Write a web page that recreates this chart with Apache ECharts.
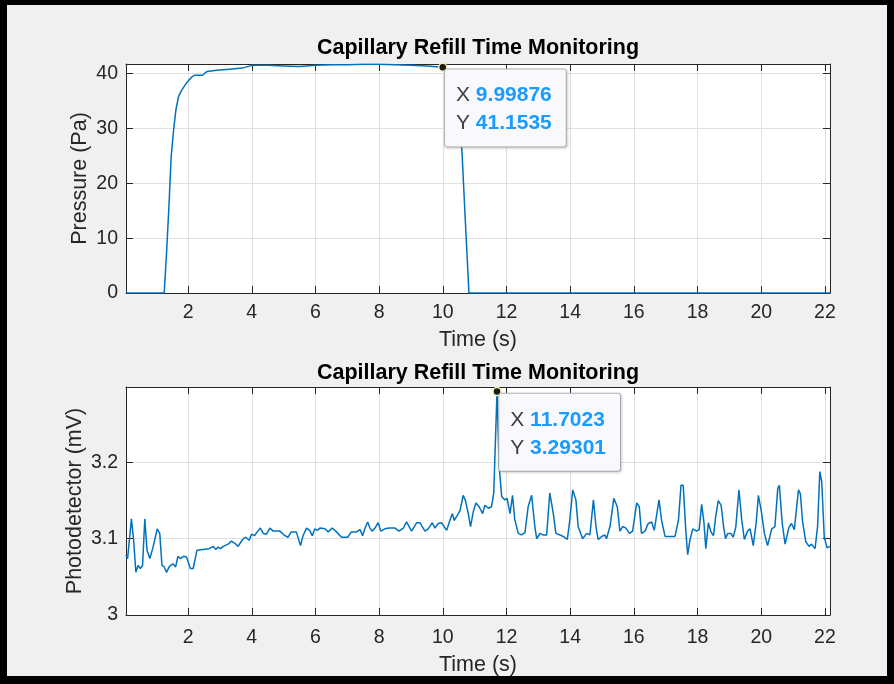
<!DOCTYPE html>
<html>
<head>
<meta charset="utf-8">
<style>
html, body { margin: 0; padding: 0; background: #f0f0f0; }
#main { width: 894px; height: 684px; }
#frame { position: absolute; left: 0; top: 0; width: 894px; height: 684px; box-sizing: border-box;
  border-style: solid; border-color: #000; border-width: 5px 7px 8px 7px; pointer-events: none; }
</style>
<script src="https://cdn.jsdelivr.net/npm/echarts@6/dist/echarts.min.js"></script>
</head>
<body>
<div id="main"></div>
<div id="frame"></div>
<script>
// pressure trace (Pa)
var pressureTime = [0.05, 1.25, 1.33, 1.40, 1.47, 1.55, 1.62, 1.70, 1.80, 1.95, 2.10, 2.20, 2.45, 2.60, 2.90, 3.30, 3.70,
  4.00, 4.50, 5.00, 5.50, 6.00, 6.50, 7.00, 7.50, 8.00, 8.50, 9.00, 9.50, 9.99876, 10.20, 10.40, 10.60, 10.70, 10.82, 22.16];
var pressureVal = [0, 0, 8, 16, 25, 30, 33.5, 35.8, 37, 38.3, 39.3, 39.7, 39.7, 40.4, 40.6, 40.8, 41.0,
  41.5, 41.5, 41.4, 41.3, 41.5, 41.6, 41.6, 41.7, 41.7, 41.6, 41.5, 41.4, 41.1535, 40, 36, 26, 14, 0, 0];

// photodetector trace (mV)
var photoTime = [0.05, 0.10, 0.22, 0.29, 0.36, 0.43, 0.50, 0.57, 0.64, 0.71, 0.80, 0.90, 0.95, 1.03, 1.11, 1.18, 1.25,
  1.32, 1.42, 1.53, 1.61, 1.68, 1.76, 1.86, 1.95, 2.07, 2.16, 2.28, 2.47, 2.66, 2.79, 2.87, 2.94, 3.02, 3.10, 3.26,
  3.36, 3.47, 3.57, 3.71, 3.81, 3.92, 3.99, 4.09, 4.17, 4.27, 4.36, 4.46, 4.57, 4.67, 4.88, 5.04, 5.14, 5.24, 5.40,
  5.46, 5.53, 5.61, 5.72, 5.82, 5.90, 5.98, 6.06, 6.14, 6.30, 6.40, 6.53, 6.66, 6.82, 7.01, 7.13, 7.29, 7.40, 7.48,
  7.55, 7.64, 7.71, 7.78, 7.87, 7.97, 8.05, 8.18, 8.31, 8.50, 8.62, 8.76, 8.86, 9.02, 9.18, 9.28, 9.44, 9.54, 9.67,
  9.75, 9.86, 9.96, 10.12, 10.22, 10.30, 10.36, 10.46, 10.54, 10.64, 10.71, 10.80,
  10.87, 10.96, 11.04, 11.14, 11.25, 11.32, 11.43, 11.53, 11.60, 11.7023, 11.77, 11.85, 11.95, 12.02, 12.11, 12.19,
  12.26, 12.37, 12.47, 12.58, 12.68, 12.79, 12.89, 12.95, 13.05, 13.15, 13.26, 13.36, 13.47, 13.55, 13.68, 13.78,
  13.91, 13.99, 14.08, 14.18, 14.25, 14.39, 14.52, 14.62, 14.73, 14.81, 14.88, 14.99, 15.09, 15.14, 15.25, 15.37,
  15.48, 15.56, 15.65, 15.75, 15.86, 15.96, 16.09, 16.17, 16.24, 16.35,
  16.45, 16.56, 16.64, 16.79, 16.87, 16.98, 17.29, 17.40, 17.48, 17.55, 17.63, 17.69, 17.76, 17.85, 17.97, 18.05,
  18.13, 18.20, 18.26, 18.34, 18.42, 18.50, 18.57, 18.65, 18.74, 18.82, 18.88, 18.95, 19.05, 19.12, 19.20, 19.30,
  19.39, 19.47, 19.57, 19.65, 19.75, 19.84, 19.91, 20.00, 20.10, 20.20, 20.33, 20.43, 20.52, 20.57, 20.66, 20.75,
  20.87, 20.95, 21.04, 21.17, 21.23, 21.30, 21.40, 21.50, 21.58, 21.69, 21.77, 21.84, 21.90, 21.98, 22.07, 22.16];
var photoVal = [3.078, 3.074, 3.126, 3.098, 3.056, 3.065, 3.061, 3.065, 3.126, 3.085, 3.074, 3.089, 3.091, 3.113, 3.107, 3.065, 3.063,
  3.056, 3.064, 3.067, 3.063, 3.077, 3.074, 3.077, 3.076, 3.061, 3.061, 3.085, 3.086, 3.087, 3.090, 3.086, 3.089, 3.087, 3.090, 3.093,
  3.097, 3.094, 3.090, 3.099, 3.102, 3.098, 3.106, 3.104, 3.109, 3.114, 3.107, 3.106, 3.114, 3.110, 3.110, 3.104, 3.102, 3.109, 3.109,
  3.107, 3.091, 3.104, 3.114, 3.111, 3.104, 3.113, 3.111, 3.114, 3.113, 3.109, 3.114, 3.109, 3.102, 3.102, 3.109, 3.109, 3.112, 3.104,
  3.113, 3.122, 3.114, 3.110, 3.114, 3.121, 3.110, 3.113, 3.114, 3.114, 3.110, 3.114, 3.122, 3.110, 3.121, 3.121, 3.110, 3.113, 3.121,
  3.114, 3.120, 3.121, 3.111, 3.124, 3.133, 3.124, 3.131, 3.137, 3.157, 3.150, 3.133,
  3.116, 3.136, 3.147, 3.142, 3.133, 3.144, 3.140, 3.142, 3.160, 3.29301, 3.194, 3.155, 3.151, 3.153, 3.133, 3.157,
  3.125, 3.107, 3.105, 3.108, 3.142, 3.157, 3.116, 3.100, 3.107, 3.105, 3.105, 3.160, 3.133, 3.107, 3.105, 3.103,
  3.099, 3.125, 3.164, 3.151, 3.116, 3.100, 3.107, 3.105, 3.151, 3.116, 3.099, 3.103, 3.105, 3.100, 3.116, 3.153,
  3.142, 3.110, 3.116, 3.114, 3.107, 3.110, 3.147, 3.142, 3.107, 3.110,
  3.120, 3.122, 3.111, 3.151, 3.124, 3.103, 3.103, 3.124, 3.170, 3.170, 3.111, 3.079, 3.098, 3.113, 3.110, 3.112,
  3.145, 3.122, 3.087, 3.121, 3.109, 3.104, 3.129, 3.150, 3.144, 3.115, 3.100, 3.107, 3.107, 3.102, 3.115, 3.164,
  3.124, 3.099, 3.110, 3.113, 3.091, 3.120, 3.157, 3.137, 3.107, 3.091, 3.113, 3.116, 3.166, 3.170, 3.120, 3.093,
  3.115, 3.120, 3.112, 3.164, 3.159, 3.122, 3.096, 3.090, 3.093, 3.087, 3.116, 3.188, 3.175, 3.102, 3.088, 3.090];

// data tips
var tipTop = [9.99876, 41.1535];
var tipBottom = [11.7023, 3.29301];

var chartTitle = 'Capillary Refill Time Monitoring';
var xName = 'Time (s)';
var yNameTop = 'Pressure (Pa)';
var yNameBottom = 'Photodetector (mV)';

var dom = document.getElementById('main');
var myChart = echarts.init(dom);

var font = '"Liberation Sans", Arial, sans-serif';
var axisColor = '#262626';
var gridColor = '#e0e0e0';
var lineColor = '#0072bd';

function pairs(xs, ys) {
    return xs.map(function (t, i) { return [t, ys[i]]; });
}

function xAx(gi, pos, main, margin, gap) {
    return {
        type: 'value', gridIndex: gi, position: pos,
        min: 0.05, max: 22.16, splitNumber: 11,
        axisLine: { show: true, onZero: false, lineStyle: { color: axisColor, width: 1 } },
        axisTick: { show: true, inside: true, length: 7, lineStyle: { color: axisColor } },
        axisLabel: { show: main, margin: margin, fontSize: 19.5, color: axisColor, fontFamily: font,
            showMinLabel: false, showMaxLabel: false },
        splitLine: { show: main, lineStyle: { color: gridColor, width: 1 } },
        name: main ? xName : '', nameLocation: 'middle', nameGap: gap, nameMoveOverlap: false,
        nameTextStyle: { fontSize: 21.5, color: axisColor, fontFamily: font }
    };
}

function yAx(gi, pos, main, lo, hi, step, name, gap) {
    return {
        type: 'value', gridIndex: gi, position: pos,
        min: lo, max: hi, interval: step,
        axisLine: { show: true, onZero: false, lineStyle: { color: axisColor, width: 1 } },
        axisTick: { show: true, inside: true, length: 7, lineStyle: { color: axisColor } },
        axisLabel: { show: main, margin: 8, fontSize: 19.5, color: axisColor, fontFamily: font,
            showMaxLabel: false },
        splitLine: { show: main, lineStyle: { color: gridColor, width: 1 } },
        name: main ? name : '', nameLocation: 'middle', nameGap: gap, nameMoveOverlap: false,
        nameTextStyle: { fontSize: 21.5, color: axisColor, fontFamily: font }
    };
}

function tip(coord) {
    return {
        silent: true,
        symbol: 'circle', symbolSize: 8,
        itemStyle: { color: '#1a1a1a', borderColor: '#f4eeb0', borderWidth: 1.5 },
        label: {
            show: true, position: [7, 7],
            formatter: '{k|X} {v|' + coord[0] + '}\n{k|Y} {v|' + coord[1] + '}',
            fontSize: 21, fontFamily: font, lineHeight: 28,
            backgroundColor: '#f9f9fd', borderColor: '#b8b8b8', borderWidth: 1, borderRadius: 2,
            padding: [12, 14, 9, 11],
            shadowColor: 'rgba(0,0,0,0.15)', shadowBlur: 3, shadowOffsetX: 1, shadowOffsetY: 1,
            rich: {
                k: { color: '#404040', fontSize: 21, fontFamily: font, lineHeight: 28 },
                v: { color: '#1a9bff', fontSize: 21, fontWeight: 'bold', fontFamily: font, lineHeight: 28 }
            }
        },
        data: [{ coord: coord }]
    };
}

option = {
    animation: false,
    backgroundColor: '#f0f0f0',
    title: [
        { text: chartTitle, left: 473, top: 32, textAlign: 'center',
          textStyle: { fontSize: 21.5, fontWeight: 'bold', color: '#000', fontFamily: font } },
        { text: chartTitle, left: 473, top: 357, textAlign: 'center',
          textStyle: { fontSize: 21.5, fontWeight: 'bold', color: '#000', fontFamily: font } }
    ],
    grid: [
        { left: 126, top: 64, width: 704, height: 229, backgroundColor: '#fff', show: true, borderWidth: 0 },
        { left: 126, top: 387, width: 704, height: 228, backgroundColor: '#fff', show: true, borderWidth: 0 }
    ],
    xAxis: [
        xAx(0, 'bottom', true, 10, 36),
        xAx(0, 'top', false, 10, 36),
        xAx(1, 'bottom', true, 13, 39),
        xAx(1, 'top', false, 13, 39)
    ],
    yAxis: [
        yAx(0, 'left', true, 0, 41.75, 10, yNameTop, 35),
        yAx(0, 'right', false, 0, 41.75, 10, yNameTop, 35),
        yAx(1, 'left', true, 3, 3.299, 0.1, yNameBottom, 40),
        yAx(1, 'right', false, 3, 3.299, 0.1, yNameBottom, 40)
    ],
    series: [
        {
            name: 'Pressure', type: 'line', xAxisIndex: 0, yAxisIndex: 0,
            data: pairs(pressureTime, pressureVal),
            showSymbol: false, lineStyle: { color: lineColor, width: 1.5 },
            markPoint: tip(tipTop)
        },
        {
            name: 'Photodetector', type: 'line', xAxisIndex: 2, yAxisIndex: 2,
            data: pairs(photoTime, photoVal),
            showSymbol: false, lineStyle: { color: lineColor, width: 1.5 },
            markPoint: tip(tipBottom)
        }
    ]
};

if (option && typeof option === 'object') {
    myChart.setOption(option, true);
}
</script>
</body>
</html>
